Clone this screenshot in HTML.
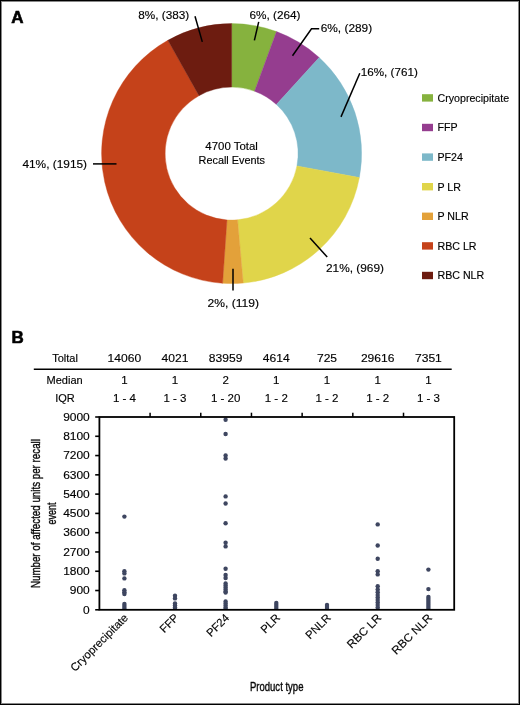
<!DOCTYPE html>
<html><head><meta charset="utf-8"><style>
html,body{margin:0;padding:0;background:#fff;}
#w{position:relative;width:520px;height:705px;overflow:hidden;background:#fff;}
svg{position:absolute;left:0;top:0;will-change:transform;}
text:not([stroke]){stroke:#000;stroke-width:0.15px;}
</style></head><body><div id="w">
<svg width="520" height="705" viewBox="0 0 520 705" font-family="Liberation Sans, sans-serif" fill="#000">
<rect x="0.5" y="0.5" width="519" height="704" fill="none" stroke="#000" stroke-width="1"/>
<rect x="1.5" y="1.5" width="517" height="702" fill="none" stroke="#888" stroke-width="1"/>
<text x="11.3" y="22.9" font-size="17" font-weight="bold" fill="#000" stroke="#000" stroke-width="0.6">A</text>
<text x="11.5" y="343.4" font-size="17" font-weight="bold" fill="#000" stroke="#000" stroke-width="0.6">B</text>
<path d="M231.60,23.60 A130.0,130.0 0 0 1 276.53,31.61 L254.59,91.20 A66.5,66.5 0 0 0 231.60,87.10 Z" fill="#86b23e" stroke="#86b23e" stroke-width="0.4"/><path d="M276.53,31.61 A130.0,130.0 0 0 1 319.19,57.54 L276.40,104.46 A66.5,66.5 0 0 0 254.59,91.20 Z" fill="#953d8f" stroke="#953d8f" stroke-width="0.4"/><path d="M319.19,57.54 A130.0,130.0 0 0 1 359.36,177.62 L296.96,165.89 A66.5,66.5 0 0 0 276.40,104.46 Z" fill="#7db8c9" stroke="#7db8c9" stroke-width="0.4"/><path d="M359.36,177.62 A130.0,130.0 0 0 1 243.23,283.08 L237.55,219.83 A66.5,66.5 0 0 0 296.96,165.89 Z" fill="#e0d54a" stroke="#e0d54a" stroke-width="0.4"/><path d="M243.23,283.08 A130.0,130.0 0 0 1 222.57,283.29 L226.98,219.94 A66.5,66.5 0 0 0 237.55,219.83 Z" fill="#e3a13a" stroke="#e3a13a" stroke-width="0.4"/><path d="M222.57,283.29 A130.0,130.0 0 0 1 167.91,40.27 L199.02,95.63 A66.5,66.5 0 0 0 226.98,219.94 Z" fill="#c5421a" stroke="#c5421a" stroke-width="0.4"/><path d="M167.91,40.27 A130.0,130.0 0 0 1 231.60,23.60 L231.60,87.10 A66.5,66.5 0 0 0 199.02,95.63 Z" fill="#6d1c10" stroke="#6d1c10" stroke-width="0.4"/>
<g stroke="#000" stroke-width="1.5"><line x1="195" y1="16.3" x2="202.3" y2="41.9"/><line x1="258.7" y1="21.9" x2="254.4" y2="40.4"/><line x1="359.8" y1="73.3" x2="341" y2="116.9"/><line x1="310" y1="238.1" x2="327.2" y2="257"/><line x1="233" y1="268.7" x2="233" y2="290.6"/><line x1="93" y1="163.9" x2="116.5" y2="163.9"/><polyline points="292.5,55.8 311.5,28.7 319.2,28.7" fill="none"/></g>
<text x="138.2" y="19.2" font-size="10.7" text-anchor="start" textLength="51" lengthAdjust="spacingAndGlyphs" >8%, (383)</text><text x="249.5" y="19.0" font-size="10.7" text-anchor="start" textLength="51" lengthAdjust="spacingAndGlyphs" >6%, (264)</text><text x="320.7" y="31.7" font-size="10.7" text-anchor="start" textLength="51.5" lengthAdjust="spacingAndGlyphs" >6%, (289)</text><text x="360.8" y="76.0" font-size="10.7" text-anchor="start" textLength="57" lengthAdjust="spacingAndGlyphs" >16%, (761)</text><text x="326.0" y="271.6" font-size="10.7" text-anchor="start" textLength="58" lengthAdjust="spacingAndGlyphs" >21%, (969)</text><text x="207.5" y="307.2" font-size="10.7" text-anchor="start" textLength="51.5" lengthAdjust="spacingAndGlyphs" >2%, (119)</text><text x="22.4" y="167.7" font-size="10.7" text-anchor="start" textLength="64.7" lengthAdjust="spacingAndGlyphs" >41%, (1915)</text><text x="231.6" y="150" font-size="10.7" text-anchor="middle" textLength="52.5" lengthAdjust="spacingAndGlyphs" >4700 Total</text><text x="231.8" y="163.6" font-size="10.7" text-anchor="middle" textLength="66.5" lengthAdjust="spacingAndGlyphs" >Recall Events</text>
<rect x="422" y="94.2" width="11" height="7.4" fill="#86b23e"/><text x="437.5" y="101.7" font-size="10.65" text-anchor="start" >Cryoprecipitate</text><rect x="422" y="123.8" width="11" height="7.4" fill="#953d8f"/><text x="437.5" y="131.3" font-size="10.65" text-anchor="start" >FFP</text><rect x="422" y="153.4" width="11" height="7.4" fill="#7db8c9"/><text x="437.5" y="160.9" font-size="10.65" text-anchor="start" >PF24</text><rect x="422" y="183.0" width="11" height="7.4" fill="#e0d54a"/><text x="437.5" y="190.5" font-size="10.65" text-anchor="start" >P LR</text><rect x="422" y="212.6" width="11" height="7.4" fill="#e3a13a"/><text x="437.5" y="220.10000000000002" font-size="10.65" text-anchor="start" >P NLR</text><rect x="422" y="242.2" width="11" height="7.4" fill="#c5421a"/><text x="437.5" y="249.7" font-size="10.65" text-anchor="start" >RBC LR</text><rect x="422" y="271.8" width="11" height="7.4" fill="#6d1c10"/><text x="437.5" y="279.3" font-size="10.65" text-anchor="start" >RBC NLR</text>
<text x="65" y="362" font-size="11" text-anchor="middle" >Toltal</text><text x="64.6" y="384.3" font-size="11" text-anchor="middle" >Median</text><text x="65" y="402" font-size="11" text-anchor="middle" >IQR</text><text x="124.4" y="362" font-size="11.5" text-anchor="middle" textLength="33.58" lengthAdjust="spacingAndGlyphs" >14060</text><text x="124.4" y="384.3" font-size="11.5" text-anchor="middle" >1</text><text x="124.4" y="402" font-size="11.5" text-anchor="middle" >1 - 4</text><text x="175.0" y="362" font-size="11.5" text-anchor="middle" textLength="26.86" lengthAdjust="spacingAndGlyphs" >4021</text><text x="175.0" y="384.3" font-size="11.5" text-anchor="middle" >1</text><text x="175.0" y="402" font-size="11.5" text-anchor="middle" >1 - 3</text><text x="225.6" y="362" font-size="11.5" text-anchor="middle" textLength="33.58" lengthAdjust="spacingAndGlyphs" >83959</text><text x="225.6" y="384.3" font-size="11.5" text-anchor="middle" >2</text><text x="225.6" y="402" font-size="11.5" text-anchor="middle" >1 - 20</text><text x="276.3" y="362" font-size="11.5" text-anchor="middle" textLength="26.86" lengthAdjust="spacingAndGlyphs" >4614</text><text x="276.3" y="384.3" font-size="11.5" text-anchor="middle" >1</text><text x="276.3" y="402" font-size="11.5" text-anchor="middle" >1 - 2</text><text x="327.0" y="362" font-size="11.5" text-anchor="middle" textLength="20.15" lengthAdjust="spacingAndGlyphs" >725</text><text x="327.0" y="384.3" font-size="11.5" text-anchor="middle" >1</text><text x="327.0" y="402" font-size="11.5" text-anchor="middle" >1 - 2</text><text x="377.7" y="362" font-size="11.5" text-anchor="middle" textLength="33.58" lengthAdjust="spacingAndGlyphs" >29616</text><text x="377.7" y="384.3" font-size="11.5" text-anchor="middle" >1</text><text x="377.7" y="402" font-size="11.5" text-anchor="middle" >1 - 2</text><text x="428.4" y="362" font-size="11.5" text-anchor="middle" textLength="26.86" lengthAdjust="spacingAndGlyphs" >7351</text><text x="428.4" y="384.3" font-size="11.5" text-anchor="middle" >1</text><text x="428.4" y="402" font-size="11.5" text-anchor="middle" >1 - 3</text>
<line x1="33.8" y1="369.3" x2="451.7" y2="369.3" stroke="#000" stroke-width="1.6"/>
<defs><clipPath id="pc"><rect x="99" y="417" width="356" height="192.2"/></clipPath></defs><g fill="#3e4660" clip-path="url(#pc)"><circle cx="124.4" cy="516.6" r="2.2"/><circle cx="124.4" cy="571.2" r="2.2"/><circle cx="124.4" cy="573.4" r="2.2"/><circle cx="124.4" cy="578.4" r="2.2"/><circle cx="124.4" cy="590.2" r="2.2"/><circle cx="124.4" cy="592.2" r="2.2"/><circle cx="124.4" cy="594.0" r="2.2"/><circle cx="124.4" cy="604" r="2.2"/><circle cx="124.4" cy="606" r="2.2"/><circle cx="124.4" cy="608" r="2.2"/><circle cx="124.4" cy="610" r="2.2"/><circle cx="175.0" cy="595.8" r="2.2"/><circle cx="175.0" cy="598.4" r="2.2"/><circle cx="175.0" cy="603.5" r="2.2"/><circle cx="175.0" cy="605.5" r="2.2"/><circle cx="175.0" cy="607.5" r="2.2"/><circle cx="175.0" cy="609" r="2.2"/><circle cx="225.6" cy="419.8" r="2.2"/><circle cx="225.6" cy="434" r="2.2"/><circle cx="225.6" cy="455.5" r="2.2"/><circle cx="225.6" cy="458.5" r="2.2"/><circle cx="225.6" cy="496.4" r="2.2"/><circle cx="225.6" cy="503.5" r="2.2"/><circle cx="225.6" cy="523.2" r="2.2"/><circle cx="225.6" cy="542.8" r="2.2"/><circle cx="225.6" cy="546.4" r="2.2"/><circle cx="225.6" cy="568.7" r="2.2"/><circle cx="225.6" cy="575" r="2.2"/><circle cx="225.6" cy="578" r="2.2"/><circle cx="225.6" cy="583.5" r="2.2"/><circle cx="225.6" cy="585.5" r="2.2"/><circle cx="225.6" cy="587.5" r="2.2"/><circle cx="225.6" cy="589.5" r="2.2"/><circle cx="225.6" cy="591.5" r="2.2"/><circle cx="225.6" cy="592.5" r="2.2"/><circle cx="225.6" cy="601.5" r="2.2"/><circle cx="225.6" cy="603.5" r="2.2"/><circle cx="225.6" cy="605.5" r="2.2"/><circle cx="225.6" cy="607.5" r="2.2"/><circle cx="225.6" cy="609" r="2.2"/><circle cx="276.3" cy="603" r="2.2"/><circle cx="276.3" cy="605" r="2.2"/><circle cx="276.3" cy="607" r="2.2"/><circle cx="276.3" cy="609" r="2.2"/><circle cx="327.0" cy="605" r="2.2"/><circle cx="327.0" cy="607" r="2.2"/><circle cx="327.0" cy="609" r="2.2"/><circle cx="377.7" cy="524.4" r="2.2"/><circle cx="377.7" cy="545.5" r="2.2"/><circle cx="377.7" cy="558.7" r="2.2"/><circle cx="377.7" cy="571.2" r="2.2"/><circle cx="377.7" cy="574.4" r="2.2"/><circle cx="377.7" cy="586.3" r="2.2"/><circle cx="377.7" cy="589.5" r="2.2"/><circle cx="377.7" cy="592.3" r="2.2"/><circle cx="377.7" cy="595" r="2.2"/><circle cx="377.7" cy="597.5" r="2.2"/><circle cx="377.7" cy="600" r="2.2"/><circle cx="377.7" cy="602.5" r="2.2"/><circle cx="377.7" cy="605" r="2.2"/><circle cx="377.7" cy="607.5" r="2.2"/><circle cx="377.7" cy="610" r="2.2"/><circle cx="428.4" cy="569.6" r="2.2"/><circle cx="428.4" cy="589.1" r="2.2"/><circle cx="428.4" cy="597" r="2.2"/><circle cx="428.4" cy="599" r="2.2"/><circle cx="428.4" cy="601" r="2.2"/><circle cx="428.4" cy="603" r="2.2"/><circle cx="428.4" cy="605" r="2.2"/><circle cx="428.4" cy="607" r="2.2"/><circle cx="428.4" cy="609" r="2.2"/></g>
<rect x="99.4" y="417.0" width="354.79999999999995" height="192.79999999999995" fill="none" stroke="#000" stroke-width="1.8"/><line x1="95.2" y1="609.80" x2="99.4" y2="609.80" stroke="#000" stroke-width="1.6"/><text x="89.8" y="613.5" font-size="11.3" text-anchor="end" textLength="6.66" lengthAdjust="spacingAndGlyphs" >0</text><line x1="95.2" y1="590.52" x2="99.4" y2="590.52" stroke="#000" stroke-width="1.6"/><text x="89.8" y="594.22" font-size="11.3" text-anchor="end" textLength="19.98" lengthAdjust="spacingAndGlyphs" >900</text><line x1="95.2" y1="571.24" x2="99.4" y2="571.24" stroke="#000" stroke-width="1.6"/><text x="89.8" y="574.94" font-size="11.3" text-anchor="end" textLength="26.65" lengthAdjust="spacingAndGlyphs" >1800</text><line x1="95.2" y1="551.96" x2="99.4" y2="551.96" stroke="#000" stroke-width="1.6"/><text x="89.8" y="555.66" font-size="11.3" text-anchor="end" textLength="26.65" lengthAdjust="spacingAndGlyphs" >2700</text><line x1="95.2" y1="532.68" x2="99.4" y2="532.68" stroke="#000" stroke-width="1.6"/><text x="89.8" y="536.38" font-size="11.3" text-anchor="end" textLength="26.65" lengthAdjust="spacingAndGlyphs" >3600</text><line x1="95.2" y1="513.40" x2="99.4" y2="513.40" stroke="#000" stroke-width="1.6"/><text x="89.8" y="517.1" font-size="11.3" text-anchor="end" textLength="26.65" lengthAdjust="spacingAndGlyphs" >4500</text><line x1="95.2" y1="494.12" x2="99.4" y2="494.12" stroke="#000" stroke-width="1.6"/><text x="89.8" y="497.82" font-size="11.3" text-anchor="end" textLength="26.65" lengthAdjust="spacingAndGlyphs" >5400</text><line x1="95.2" y1="474.84" x2="99.4" y2="474.84" stroke="#000" stroke-width="1.6"/><text x="89.8" y="478.53999999999996" font-size="11.3" text-anchor="end" textLength="26.65" lengthAdjust="spacingAndGlyphs" >6300</text><line x1="95.2" y1="455.56" x2="99.4" y2="455.56" stroke="#000" stroke-width="1.6"/><text x="89.8" y="459.26" font-size="11.3" text-anchor="end" textLength="26.65" lengthAdjust="spacingAndGlyphs" >7200</text><line x1="95.2" y1="436.28" x2="99.4" y2="436.28" stroke="#000" stroke-width="1.6"/><text x="89.8" y="439.97999999999996" font-size="11.3" text-anchor="end" textLength="26.65" lengthAdjust="spacingAndGlyphs" >8100</text><line x1="95.2" y1="417.00" x2="99.4" y2="417.00" stroke="#000" stroke-width="1.6"/><text x="89.8" y="420.7" font-size="11.3" text-anchor="end" textLength="26.65" lengthAdjust="spacingAndGlyphs" >9000</text><line x1="150.09" y1="412.7" x2="150.09" y2="417.0" stroke="#000" stroke-width="1.5"/><line x1="200.77" y1="412.7" x2="200.77" y2="417.0" stroke="#000" stroke-width="1.5"/><line x1="251.46" y1="412.7" x2="251.46" y2="417.0" stroke="#000" stroke-width="1.5"/><line x1="302.14" y1="412.7" x2="302.14" y2="417.0" stroke="#000" stroke-width="1.5"/><line x1="352.83" y1="412.7" x2="352.83" y2="417.0" stroke="#000" stroke-width="1.5"/><line x1="403.51" y1="412.7" x2="403.51" y2="417.0" stroke="#000" stroke-width="1.5"/><text transform="translate(128.8,618.5) rotate(-45)" font-size="11.3" text-anchor="end">Cryoprecipitate</text><text transform="translate(179.4,618.5) rotate(-45)" font-size="11.3" text-anchor="end">FFP</text><text transform="translate(230.0,618.5) rotate(-45)" font-size="11.3" text-anchor="end">PF24</text><text transform="translate(280.7,618.5) rotate(-45)" font-size="11.3" text-anchor="end">PLR</text><text transform="translate(331.4,618.5) rotate(-45)" font-size="11.3" text-anchor="end">PNLR</text><text transform="translate(382.09999999999997,618.5) rotate(-45)" font-size="11.3" text-anchor="end" textLength="43.31" lengthAdjust="spacingAndGlyphs">RBC LR</text><text transform="translate(432.79999999999995,618.5) rotate(-45)" font-size="11.3" text-anchor="end" textLength="51.84" lengthAdjust="spacingAndGlyphs">RBC NLR</text><text transform="translate(40.2,513.6) rotate(-90)" font-size="13.3" text-anchor="middle" stroke="#111" stroke-width="0.4" textLength="149" lengthAdjust="spacingAndGlyphs">Number of affected units per recall</text><text transform="translate(55.8,513.6) rotate(-90)" font-size="13.3" text-anchor="middle" stroke="#111" stroke-width="0.4" textLength="22" lengthAdjust="spacingAndGlyphs">event</text><text x="276.7" y="690.8" font-size="13.5" text-anchor="middle" textLength="53.5" lengthAdjust="spacingAndGlyphs" stroke="#111" stroke-width="0.4">Product type</text>
</svg></div></body></html>
